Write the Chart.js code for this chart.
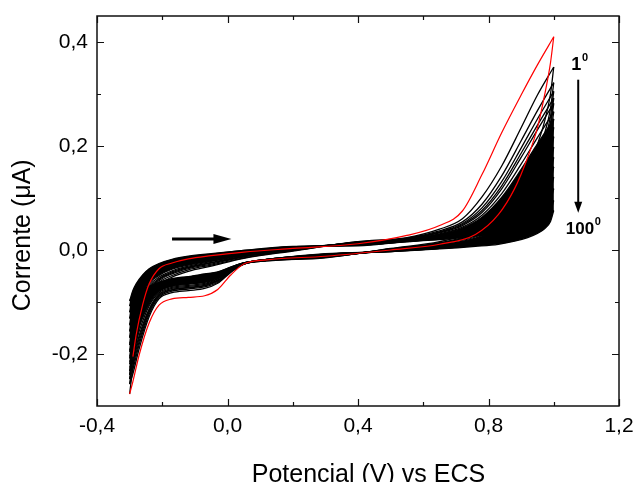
<!DOCTYPE html>
<html><head><meta charset="utf-8">
<script src="https://cdn.jsdelivr.net/npm/chart.js@4.4.1/dist/chart.umd.min.js"></script>
<style>html,body{margin:0;padding:0;background:#fff}#wrap{width:638px;height:482px;position:relative}</style>
</head><body><div id="wrap"><canvas id="c"></canvas></div>
<script>
// Potential grids (V vs ECS) for the forward (anodic) and reverse (cathodic) scans
const forwardPotential = [-0.30,-0.29,-0.28,-0.26,-0.24,-0.21,-0.17,-0.12,-0.05,0.05,0.20,0.40,0.55,0.65,0.72,0.78,0.84,0.90,0.95,1.00];
const reversePotential = [1.00,0.99,0.97,0.95,0.92,0.88,0.83,0.76,0.65,0.50,0.30,0.12,0.05,0.01,-0.03,-0.07,-0.12,-0.17,-0.21,-0.24,-0.27,-0.29,-0.30];

const xMajorTicks = [-0.4, 0.0, 0.4, 0.8, 1.2];
const xMinorTicks = [-0.2, 0.2, 0.6, 1.0];
const yMajorTicks = [-0.2, 0.0, 0.2, 0.4];
const yMinorTicks = [-0.1, 0.1, 0.3];

const cycleNumbers = [1,2,3,4,5,6,8,10,13,17,22,28,35,45,60,80,100];

// Current (uA), forward scans
const fwd001 = [null,-0.205,-0.163,-0.105,-0.065,-0.036,-0.025,-0.017,-0.011,-0.004,0.003,0.012,0.028,0.047,0.075,0.145,0.225,0.298,0.356,0.410];
const fwd002 = [-0.277,-0.225,-0.180,-0.118,-0.088,-0.066,-0.052,-0.041,-0.031,-0.016,-0.002,0.016,0.024,0.040,0.060,0.102,0.161,0.235,0.298,0.352];
const fwd003 = [-0.258,-0.207,-0.165,-0.109,-0.082,-0.062,-0.049,-0.038,-0.029,-0.015,-0.001,0.016,0.023,0.037,0.054,0.088,0.142,0.210,0.268,0.322];
const fwd004 = [-0.248,-0.196,-0.156,-0.104,-0.078,-0.059,-0.046,-0.036,-0.027,-0.013,-0.001,0.015,0.022,0.035,0.051,0.081,0.131,0.196,0.252,0.305];
const fwd005 = [-0.240,-0.188,-0.150,-0.100,-0.075,-0.057,-0.044,-0.034,-0.025,-0.013,0.000,0.015,0.021,0.034,0.049,0.076,0.123,0.186,0.240,0.292];
const fwd006 = [-0.233,-0.181,-0.144,-0.096,-0.072,-0.055,-0.042,-0.033,-0.024,-0.012,0.000,0.015,0.021,0.033,0.047,0.072,0.117,0.178,0.231,0.282];
const fwd008 = [-0.220,-0.170,-0.135,-0.090,-0.068,-0.052,-0.040,-0.031,-0.022,-0.011,0.001,0.014,0.020,0.031,0.044,0.067,0.108,0.165,0.216,0.266];
const fwd010 = [-0.209,-0.161,-0.128,-0.086,-0.064,-0.049,-0.037,-0.029,-0.021,-0.010,0.002,0.014,0.020,0.030,0.042,0.063,0.101,0.155,0.204,0.252];
const fwd013 = [-0.196,-0.151,-0.120,-0.080,-0.060,-0.046,-0.035,-0.027,-0.019,-0.009,0.003,0.013,0.019,0.029,0.040,0.059,0.093,0.143,0.189,0.236];
const fwd017 = [-0.183,-0.140,-0.111,-0.075,-0.056,-0.042,-0.032,-0.024,-0.017,-0.007,0.003,0.013,0.019,0.028,0.038,0.055,0.085,0.130,0.174,0.218];
const fwd022 = [-0.169,-0.129,-0.102,-0.069,-0.051,-0.039,-0.029,-0.022,-0.015,-0.006,0.004,0.012,0.018,0.027,0.036,0.051,0.077,0.116,0.157,0.198];
const fwd028 = [-0.157,-0.119,-0.094,-0.064,-0.047,-0.036,-0.027,-0.020,-0.013,-0.005,0.004,0.012,0.018,0.026,0.034,0.047,0.069,0.103,0.140,0.178];
const fwd035 = [-0.145,-0.110,-0.087,-0.060,-0.044,-0.034,-0.025,-0.018,-0.012,-0.004,0.005,0.011,0.017,0.025,0.032,0.044,0.062,0.091,0.124,0.160];
const fwd045 = [-0.132,-0.100,-0.080,-0.056,-0.041,-0.032,-0.023,-0.016,-0.010,-0.003,0.005,0.010,0.017,0.024,0.030,0.040,0.055,0.079,0.107,0.140];
const fwd060 = [-0.120,-0.092,-0.073,-0.052,-0.039,-0.029,-0.021,-0.014,-0.009,-0.002,0.006,0.010,0.016,0.023,0.028,0.036,0.048,0.066,0.089,0.118];
const fwd080 = [-0.108,-0.085,-0.069,-0.050,-0.037,-0.028,-0.019,-0.013,-0.008,-0.001,0.006,0.009,0.016,0.021,0.026,0.032,0.041,0.054,0.071,0.095];
const fwd100 = [-0.098,-0.078,-0.065,-0.048,-0.036,-0.026,-0.018,-0.012,-0.007,-0.001,0.007,0.008,0.016,0.020,0.024,0.028,0.034,0.043,0.056,0.076];

// Current (uA), reverse scans
const rev001 = [0.410,0.360,0.292,0.235,0.178,0.118,0.068,0.030,0.011,0.000,-0.012,-0.019,-0.027,-0.048,-0.076,-0.088,-0.091,-0.094,-0.106,-0.140,-0.200,-0.253,-0.277];
const rev002 = [0.352,0.300,0.243,0.203,0.150,0.105,0.066,0.036,0.016,0.003,-0.015,-0.021,-0.027,-0.043,-0.064,-0.074,-0.078,-0.082,-0.094,-0.128,-0.188,-0.238,-0.258];
const rev003 = [0.322,0.272,0.220,0.183,0.135,0.094,0.059,0.032,0.014,0.002,-0.014,-0.021,-0.027,-0.042,-0.062,-0.071,-0.075,-0.079,-0.091,-0.123,-0.180,-0.229,-0.248];
const rev004 = [0.305,0.257,0.206,0.171,0.126,0.088,0.055,0.030,0.013,0.002,-0.014,-0.020,-0.027,-0.041,-0.060,-0.069,-0.073,-0.077,-0.089,-0.119,-0.174,-0.222,-0.240];
const rev005 = [0.292,0.245,0.196,0.162,0.119,0.083,0.052,0.028,0.012,0.001,-0.013,-0.020,-0.027,-0.041,-0.059,-0.068,-0.072,-0.076,-0.087,-0.116,-0.168,-0.215,-0.233];
const rev006 = [0.282,0.236,0.188,0.155,0.114,0.079,0.050,0.027,0.012,0.001,-0.013,-0.020,-0.026,-0.040,-0.058,-0.066,-0.070,-0.074,-0.085,-0.113,-0.163,-0.209,-0.226];
const rev008 = [0.266,0.222,0.176,0.145,0.106,0.074,0.046,0.025,0.011,0.000,-0.012,-0.020,-0.026,-0.039,-0.056,-0.064,-0.068,-0.072,-0.082,-0.107,-0.155,-0.198,-0.215];
const rev010 = [0.252,0.209,0.165,0.136,0.099,0.069,0.043,0.023,0.010,0.000,-0.012,-0.020,-0.026,-0.039,-0.055,-0.062,-0.066,-0.070,-0.080,-0.103,-0.147,-0.189,-0.205];
const rev013 = [0.236,0.195,0.153,0.126,0.092,0.064,0.040,0.021,0.009,-0.001,-0.011,-0.019,-0.026,-0.038,-0.053,-0.060,-0.064,-0.068,-0.078,-0.099,-0.139,-0.178,-0.193];
const rev017 = [0.218,0.179,0.140,0.115,0.084,0.058,0.036,0.019,0.008,-0.001,-0.011,-0.019,-0.026,-0.037,-0.051,-0.058,-0.062,-0.066,-0.075,-0.094,-0.130,-0.166,-0.180];
const rev022 = [0.198,0.162,0.126,0.103,0.075,0.052,0.032,0.017,0.007,-0.001,-0.010,-0.019,-0.026,-0.036,-0.049,-0.055,-0.060,-0.064,-0.072,-0.089,-0.122,-0.154,-0.167];
const rev028 = [0.178,0.145,0.112,0.091,0.066,0.046,0.028,0.015,0.006,-0.002,-0.010,-0.019,-0.025,-0.036,-0.048,-0.053,-0.058,-0.062,-0.070,-0.085,-0.113,-0.143,-0.155];
const rev035 = [0.160,0.130,0.100,0.081,0.058,0.040,0.025,0.014,0.005,-0.002,-0.009,-0.018,-0.025,-0.035,-0.046,-0.052,-0.056,-0.060,-0.068,-0.081,-0.106,-0.132,-0.143];
const rev045 = [0.140,0.112,0.086,0.069,0.050,0.035,0.022,0.012,0.004,-0.002,-0.009,-0.018,-0.025,-0.034,-0.045,-0.050,-0.055,-0.059,-0.066,-0.078,-0.099,-0.121,-0.131];
const rev060 = [0.118,0.094,0.071,0.057,0.041,0.029,0.018,0.010,0.003,-0.003,-0.008,-0.018,-0.025,-0.034,-0.044,-0.048,-0.053,-0.057,-0.064,-0.075,-0.092,-0.110,-0.119];
const rev080 = [0.095,0.074,0.056,0.045,0.033,0.023,0.015,0.009,0.003,-0.003,-0.008,-0.018,-0.025,-0.033,-0.043,-0.047,-0.052,-0.056,-0.063,-0.072,-0.086,-0.100,-0.107];
const rev100 = [0.076,0.055,0.040,0.032,0.024,0.017,0.011,0.007,0.002,-0.003,-0.007,-0.018,-0.025,-0.033,-0.042,-0.046,-0.051,-0.055,-0.062,-0.070,-0.082,-0.091,-0.097];

const forwardSeries = [fwd001,fwd002,fwd003,fwd004,fwd005,fwd006,fwd008,fwd010,fwd013,fwd017,fwd022,fwd028,fwd035,fwd045,fwd060,fwd080,fwd100];
const reverseSeries = [rev001,rev002,rev003,rev004,rev005,rev006,rev008,rev010,rev013,rev017,rev022,rev028,rev035,rev045,rev060,rev080,rev100];

const toPoints = (xs, ys) => xs.map((x, i) => ({x: x, y: ys[i]}));

const datasets = [];
const denseFrom = cycleNumbers.indexOf(10);
const lastIdx = cycleNumbers.length - 1;
cycleNumbers.forEach((n, i) => {
  const first = i === 0;
  const base = {
    borderColor: first ? '#ff0000' : '#000000',
    backgroundColor: '#000000',
    borderWidth: first ? 1.2 : 1.3,
    pointRadius: 0,
    cubicInterpolationMode: 'monotone',
    fill: false
  };
  const fwd = Object.assign({}, base, {label: 'Ciclo ' + n + ' (ida)', data: toPoints(forwardPotential, forwardSeries[i])});
  const rev = Object.assign({}, base, {label: 'Ciclo ' + n + ' (volta)', data: toPoints(reversePotential, reverseSeries[i])});
  if (i === denseFrom) {
    fwd.fill = {target: 2 * lastIdx, above: '#000', below: '#000'};
    rev.fill = {target: 2 * lastIdx + 1, above: '#000', below: '#000'};
  }
  datasets.push(fwd, rev);
});

const fmt = v => Number(v).toFixed(1).replace('.', ',');

const frameTicks = {
  id: 'frameTicks',
  afterDatasetsDraw(chart) {
    const {ctx, chartArea: a, scales: {x, y}} = chart;
    ctx.save();
    ctx.strokeStyle = '#111';
    ctx.lineWidth = 1.2;
    const xt = (vals, len) => vals.forEach(v => {
      const p = Math.round(x.getPixelForValue(v)) + 0.5;
      ctx.beginPath();
      ctx.moveTo(p, a.bottom); ctx.lineTo(p, a.bottom - len);
      ctx.moveTo(p, a.top); ctx.lineTo(p, a.top + len);
      ctx.stroke();
    });
    const yt = (vals, len) => vals.forEach(v => {
      const p = Math.round(y.getPixelForValue(v)) + 0.5;
      ctx.beginPath();
      ctx.moveTo(a.left, p); ctx.lineTo(a.left + len, p);
      ctx.moveTo(a.right, p); ctx.lineTo(a.right - len, p);
      ctx.stroke();
    });
    xt(xMajorTicks, 7); xt(xMinorTicks, 4);
    yt(yMajorTicks, 7); yt(yMinorTicks, 4);
    ctx.lineWidth = 1.5;
    ctx.strokeRect(a.left, a.top, a.right - a.left, a.bottom - a.top);
    ctx.restore();
  }
};

// annotation anchors in data units
const scanArrow = {x0: -0.17, x1: 0.012, y: 0.021};
const cycleArrow = {x: 1.075, y0: 0.3275, y1: 0.0717};
const cycleLabels = [
  {text: '1', sup: '0', x: 1.054, y: 0.347, size: 18},
  {text: '100', sup: '0', x: 1.037, y: 0.030, size: 17}
];

const annotations = {
  id: 'annotations',
  afterDatasetsDraw(chart) {
    const {ctx, scales: {x, y}} = chart;
    ctx.save();
    ctx.fillStyle = '#000'; ctx.strokeStyle = '#000';
    const ax0 = x.getPixelForValue(scanArrow.x0), ax1 = x.getPixelForValue(scanArrow.x1), ay = y.getPixelForValue(scanArrow.y);
    ctx.lineWidth = 3;
    ctx.beginPath(); ctx.moveTo(ax0, ay); ctx.lineTo(ax1 - 14, ay); ctx.stroke();
    ctx.beginPath(); ctx.moveTo(ax1, ay); ctx.lineTo(ax1 - 18, ay - 5); ctx.lineTo(ax1 - 18, ay + 5); ctx.closePath(); ctx.fill();
    const vx = x.getPixelForValue(cycleArrow.x), vy0 = y.getPixelForValue(cycleArrow.y0), vy1 = y.getPixelForValue(cycleArrow.y1);
    ctx.lineWidth = 2;
    ctx.beginPath(); ctx.moveTo(vx, vy0); ctx.lineTo(vx, vy1 - 8); ctx.stroke();
    ctx.beginPath(); ctx.moveTo(vx, vy1); ctx.lineTo(vx - 4, vy1 - 11); ctx.lineTo(vx + 4, vy1 - 11); ctx.closePath(); ctx.fill();
    ctx.textBaseline = 'alphabetic'; ctx.textAlign = 'left';
    cycleLabels.forEach(l => {
      const px = x.getPixelForValue(l.x), py = y.getPixelForValue(l.y);
      ctx.font = 'bold ' + l.size + 'px "Liberation Sans", Arial, sans-serif';
      ctx.fillText(l.text, px, py);
      const w = ctx.measureText(l.text).width;
      ctx.font = 'bold 11px "Liberation Sans", Arial, sans-serif';
      ctx.fillText(l.sup, px + w + 0.5, py - 9);
    });
    ctx.restore();
  }
};

Chart.defaults.font.family = '"Liberation Sans", Arial, sans-serif';
Chart.defaults.color = '#000';

const noPad = s => { s.paddingTop = 0; s.paddingBottom = 0; s.paddingLeft = 0; s.paddingRight = 0; };

new Chart(document.getElementById('c'), {
  type: 'line',
  data: {datasets},
  options: {
    responsive: true,
    maintainAspectRatio: false,
    animation: false,
    events: [],
    layout: {padding: {top: 16, right: 19, left: 0, bottom: 0}},
    plugins: {legend: {display: false}, tooltip: {enabled: false}, filler: {propagate: false}},
    scales: {
      x: {
        type: 'linear', min: -0.4, max: 1.2,
        afterBuildTicks: s => { s.ticks = xMajorTicks.map(v => ({value: v})); },
        afterFit: s => { s.height = 76; noPad(s); },
        grid: {display: false, drawTicks: false},
        border: {display: false},
        ticks: {callback: v => fmt(v), font: {size: 21}, padding: 8, maxRotation: 0, autoSkip: false},
        title: {display: true, text: '   Potencial (V) vs ECS', font: {size: 25, lineHeight: 0.55}, padding: 0}
      },
      y: {
        type: 'linear', min: -0.3, max: 0.45,
        afterBuildTicks: s => { s.ticks = yMajorTicks.map(v => ({value: v})); },
        afterFit: s => { s.width = 97; noPad(s); },
        grid: {display: false, drawTicks: false},
        border: {display: false},
        ticks: {callback: v => fmt(v), font: {size: 21}, padding: 9, autoSkip: false},
        title: {display: true, text: 'Corrente (\u03BCA)       ', font: {size: 25}, padding: {top: 8, bottom: 0}}
      }
    }
  },
  plugins: [frameTicks, annotations]
});
</script>
</body></html>
